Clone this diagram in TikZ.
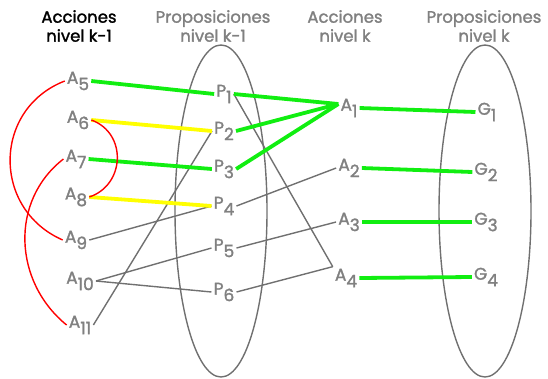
\documentclass[tikz,border=0pt]{standalone}
\usepackage{fontspec}
\setmainfont{Poppins}
\newfontfamily\hdrfont{Poppins}[FakeBold=1.6]
\newfontfamily\litfont{Poppins}[FakeBold=1.6]
\usetikzlibrary{positioning}
\definecolor{txtgray}{HTML}{808080}
\definecolor{edgegray}{HTML}{707070}
\definecolor{actgreen}{HTML}{11EE11}
\definecolor{holdyellow}{HTML}{FFFF00}
\definecolor{mutexred}{HTML}{FF0000}
\newcommand{\litx}[2]{#1\raisebox{-6.5pt}{\fontsize{17}{17}\selectfont #2}}
\tikzset{
  hdr/.style    = {align=center, font=\hdrfont\fontsize{16.5}{19}\selectfont, text=txtgray, inner sep=1pt},
  lit/.style    = {font=\litfont\fontsize{17}{17}\selectfont, text=txtgray, inner sep=2pt},
  layer/.style  = {draw=edgegray, line width=1.4pt},
  plain/.style  = {draw=edgegray, line width=1.4pt},
  act/.style    = {draw=actgreen, line width=3.8pt},
  hold/.style   = {draw=holdyellow, line width=3.8pt},
  mutex/.style  = {draw=mutexred, line width=1.4pt},
}
\begin{document}
\begin{tikzpicture}[x=1pt, y=-1pt]
\useasboundingbox (0,0) rectangle (548,378);
\draw[layer] (221,211) ellipse [x radius=46pt, y radius=166pt];
\draw[layer] (485,211) ellipse [x radius=46pt, y radius=166pt];
\node[hdr, text=black] (h0) at (79,26) {Acciones\\nivel k-1};
\node[hdr] (h1) at (213,26) {Proposiciones\\nivel k-1};
\node[hdr] (h2) at (345,26) {Acciones\\nivel k};
\node[hdr] (h3) at (484,26) {Proposiciones\\nivel k};
\node[lit] (a5) at (78,81) {\litx{A}{5}};
\node[lit] (a6) at (78,120) {\litx{A}{6}};
\node[lit] (a7) at (76,159) {\litx{A}{7}};
\node[lit] (a8) at (76,197) {\litx{A}{8}};
\node[lit] (a9) at (76,240) {\litx{A}{9}};
\node[lit] (a10) at (80,281) {\litx{A}{10}};
\node[lit] (a11) at (80,325) {\litx{A}{11}};
\node[lit] (p1) at (224,94) {\litx{P}{1}};
\node[lit] (p2) at (224,131) {\litx{P}{2}};
\node[lit] (p3) at (224,169) {\litx{P}{3}};
\node[lit] (p4) at (224,206) {\litx{P}{4}};
\node[lit] (p5) at (224,248) {\litx{P}{5}};
\node[lit] (p6) at (224,292) {\litx{P}{6}};
\node[lit] (a1) at (349,108) {\litx{A}{1}};
\node[lit] (a2) at (349,168) {\litx{A}{2}};
\node[lit] (a3) at (349,222) {\litx{A}{3}};
\node[lit] (a4) at (346,278) {\litx{A}{4}};
\node[lit] (g1) at (487,112) {\litx{G}{1}};
\node[lit] (g2) at (486,172) {\litx{G}{2}};
\node[lit] (g3) at (486,222) {\litx{G}{3}};
\node[lit] (g4) at (486,277) {\litx{G}{4}};
\foreach \a/\b in {a9/p4,a10/p5,a10/p6,a11/p2,p4/a2,p5/a3}{\draw[plain] (\a.east) -- (\b.west);}
\foreach \a in {p1,p6}{\draw[plain] (\a.east) -- (a4.north west);}
\foreach \a/\b in {a5/p1,a7/p3,a1/g1,a2/g2,a3/g3,a4/g4}{\draw[act] (\a.east) -- (\b.west);}
\foreach \a in {p1,p2,p3}{\draw[act] (\a.east) -- ([yshift=4pt]a1.west);}
\foreach \a/\b in {a6/p2,a8/p4}{\draw[hold] (\a.east) -- (\b.west);}
\draw[mutex] (a5.west) .. controls +(-72,28) and +(-71,-31) .. (a9.west);
\draw[mutex] (a6.east) .. controls +(36,13) and +(36,-12) .. (a8.east);
\draw[mutex] (a7.west) .. controls +(-54,42) and +(-53,-43) .. (a11.west);
\end{tikzpicture}
\end{document}
